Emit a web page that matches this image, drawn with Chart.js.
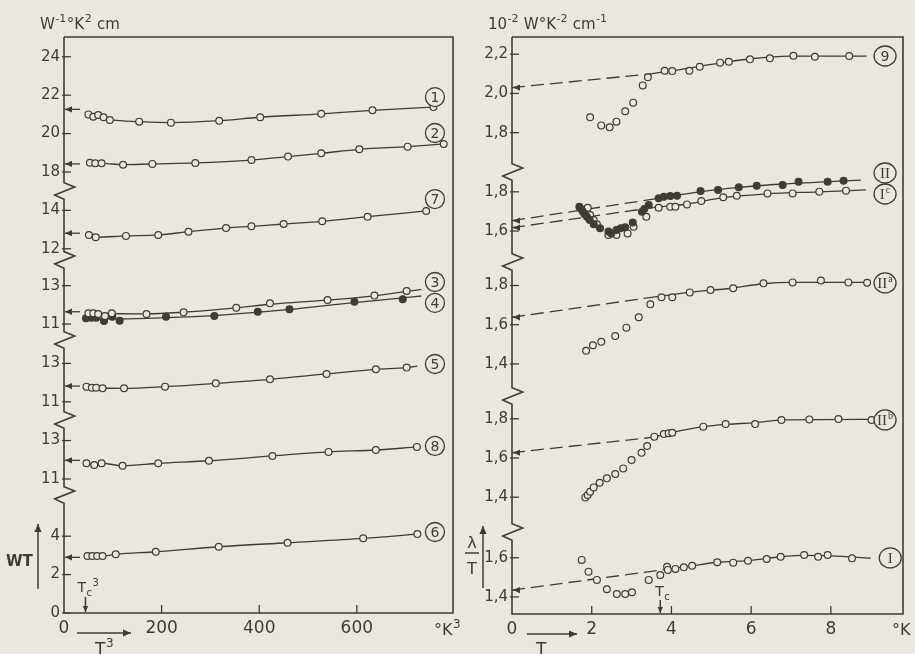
<!DOCTYPE html>
<html>
<head>
<meta charset="utf-8">
<script src="https://cdn.jsdelivr.net/npm/chart.js@4/dist/chart.umd.min.js"></script>
<style>
html, body { margin: 0; padding: 0; background: #ebe7df; }
#wrap { position: relative; width: 915px; height: 654px; overflow: hidden; }
#left { position: absolute; left: 0; top: 0; }
#right { position: absolute; left: 460px; top: 0; }
</style>
</head>
<body>
<div id="wrap">
  <canvas id="left" width="470" height="654"></canvas>
  <canvas id="right" width="455" height="654"></canvas>
</div>
<script>
// ---------- colours ----------
const INK = "#3f3c37";
const PAPER = "#ebe7df";

// ---------- left panel: WT against T^3 ----------
const c1T3 = [50, 60, 70, 81, 94, 154, 219, 318, 402, 527, 632, 757];
const c1WT = [21.0, 20.88, 20.97, 20.85, 20.71, 20.62, 20.57, 20.67, 20.85, 21.03, 21.21, 21.38];
const c1LineT3 = [94, 154, 219, 318, 402, 527, 632, 757];
const c1LineWT = [20.71, 20.62, 20.57, 20.67, 20.85, 21.03, 21.21, 21.38];

const c2T3 = [53, 64, 77, 121, 181, 269, 384, 459, 527, 605, 704, 778];
const c2WT = [18.48, 18.45, 18.45, 18.38, 18.42, 18.47, 18.62, 18.8, 18.97, 19.18, 19.32, 19.46];

const c7T3 = [51, 65, 127, 193, 255, 332, 384, 450, 529, 622, 742];
const c7WT = [12.72, 12.6, 12.67, 12.72, 12.89, 13.08, 13.17, 13.29, 13.43, 13.67, 13.97];

const c3T3 = [50, 60, 70, 84, 98, 169, 245, 353, 422, 540, 636, 702];
const c3WT = [11.56, 11.56, 11.52, 11.42, 11.56, 11.52, 11.61, 11.85, 12.08, 12.25, 12.48, 12.72];
const c3LineT3 = [50, 169, 245, 353, 422, 540, 636, 732];
const c3LineWT = [11.56, 11.53, 11.62, 11.84, 12.03, 12.25, 12.47, 12.8];

const c4T3 = [45, 56, 66, 82, 99, 114, 209, 308, 397, 462, 595, 694];
const c4WT = [11.3, 11.33, 11.33, 11.16, 11.38, 11.17, 11.38, 11.42, 11.64, 11.77, 12.16, 12.29];
const c4LineT3 = [45, 114, 209, 308, 397, 462, 595, 694, 732];
const c4LineWT = [11.3, 11.27, 11.33, 11.44, 11.62, 11.76, 12.12, 12.36, 12.46];

const c5T3 = [46, 57, 66, 79, 123, 207, 311, 422, 538, 639, 702];
const c5WT = [11.79, 11.73, 11.73, 11.7, 11.7, 11.79, 11.96, 12.17, 12.45, 12.69, 12.78];
const c5LineT3 = [46, 79, 123, 207, 311, 422, 538, 639, 702, 724];
const c5LineWT = [11.79, 11.72, 11.7, 11.79, 11.96, 12.17, 12.45, 12.69, 12.78, 12.86];

const c8T3 = [46, 62, 77, 120, 193, 297, 427, 542, 639, 723];
const c8WT = [11.82, 11.73, 11.82, 11.69, 11.82, 11.95, 12.2, 12.41, 12.51, 12.67];

const c6T3 = [48, 58, 68, 79, 106, 188, 317, 458, 613, 724];
const c6WT = [2.97, 2.97, 2.97, 2.97, 3.06, 3.19, 3.45, 3.66, 3.89, 4.11];

// left axis: every curve sits on its own broken piece of axis
const leftTicks6 = [0, 2, 4];
const leftTicks8 = [11, 13];
const leftTicks5 = [11, 13];
const leftTicks34 = [11, 13];
const leftTicks7 = [12, 14];
const leftTicks12 = [18, 20, 22, 24];
const leftXTicks = [0, 200, 400, 600];
const leftTc3 = 44;

// ---------- right panel: lambda/T against T ----------
const c9T = [1.96, 2.24, 2.45, 2.62, 2.84, 3.04, 3.28, 3.41, 3.83, 4.02, 4.45, 4.71, 5.22, 5.44, 5.97, 6.47, 7.06, 7.6, 8.46];
const c9L = [1.878, 1.837, 1.827, 1.856, 1.909, 1.953, 2.041, 2.082, 2.116, 2.114, 2.116, 2.136, 2.157, 2.162, 2.174, 2.179, 2.192, 2.187, 2.191];
const c9FitT = [3.4, 4.0, 5.0, 6.0, 7.0, 8.9];
const c9FitL = [2.098, 2.115, 2.148, 2.177, 2.19, 2.19];

const cIIT = [1.69, 1.74, 1.78, 1.82, 1.88, 1.95, 2.05, 2.21, 2.42, 2.49, 2.62, 2.73, 2.84, 3.03, 3.26, 3.32, 3.43, 3.68, 3.81, 3.97, 4.14, 4.73, 5.17, 5.69, 6.14, 6.79, 7.19, 7.92, 8.32];
const cIIL = [1.724, 1.711, 1.699, 1.687, 1.673, 1.656, 1.634, 1.614, 1.597, 1.588, 1.605, 1.614, 1.619, 1.644, 1.699, 1.712, 1.733, 1.767, 1.775, 1.779, 1.78, 1.804, 1.809, 1.823, 1.831, 1.835, 1.852, 1.852, 1.857];
const cIIFitT = [3.68, 4.7, 5.7, 6.8, 8.75];
const cIIFitL = [1.767, 1.8, 1.823, 1.84, 1.86];

const cIcT = [1.9, 1.96, 2.05, 2.13, 2.42, 2.62, 2.9, 3.05, 3.37, 3.68, 3.97, 4.1, 4.39, 4.75, 5.3, 5.64, 6.41, 7.04, 7.71, 8.38];
const cIcL = [1.719, 1.682, 1.656, 1.634, 1.58, 1.58, 1.588, 1.622, 1.673, 1.719, 1.724, 1.724, 1.736, 1.753, 1.772, 1.78, 1.792, 1.792, 1.801, 1.806];
const cIcFitT = [3.55, 4.4, 5.3, 6.4, 7.7, 8.88];
const cIcFitL = [1.72, 1.738, 1.77, 1.79, 1.8, 1.81];

const cIIaT = [1.86, 2.03, 2.24, 2.59, 2.87, 3.18, 3.47, 3.75, 4.02, 4.46, 4.98, 5.55, 6.31, 7.04, 7.75, 8.44, 8.91];
const cIIaL = [1.467, 1.495, 1.513, 1.542, 1.585, 1.638, 1.704, 1.74, 1.74, 1.765, 1.777, 1.786, 1.811, 1.816, 1.825, 1.816, 1.814];
const cIIaFitT = [3.51, 4.46, 5.5, 6.3, 7.0, 8.9];
const cIIaFitL = [1.74, 1.765, 1.786, 1.809, 1.816, 1.816];

const cIIbT = [1.84, 1.9, 1.96, 2.05, 2.2, 2.38, 2.59, 2.79, 3.0, 3.25, 3.39, 3.57, 3.81, 3.93, 4.02, 4.8, 5.36, 6.1, 6.76, 7.46, 8.19, 9.02];
const cIIbL = [1.399, 1.411, 1.428, 1.45, 1.474, 1.496, 1.518, 1.547, 1.59, 1.627, 1.661, 1.709, 1.722, 1.726, 1.729, 1.76, 1.773, 1.773, 1.794, 1.797, 1.799, 1.794];
const cIIbFitT = [3.55, 4.0, 4.8, 5.4, 6.1, 6.8, 9.2];
const cIIbFitL = [1.706, 1.729, 1.76, 1.772, 1.78, 1.794, 1.797];

const cIT = [1.75, 1.92, 2.13, 2.38, 2.63, 2.84, 3.01, 3.43, 3.72, 3.89, 3.91, 4.1, 4.31, 4.52, 5.15, 5.55, 5.92, 6.39, 6.74, 7.33, 7.68, 7.92, 8.53];
const cIL = [1.589, 1.529, 1.487, 1.439, 1.415, 1.415, 1.424, 1.487, 1.512, 1.554, 1.538, 1.543, 1.551, 1.559, 1.577, 1.575, 1.585, 1.594, 1.605, 1.614, 1.605, 1.614, 1.597];
const cIFitT = [3.89, 4.52, 5.15, 5.92, 6.74, 7.33, 8.0, 9.0];
const cIFitL = [1.541, 1.559, 1.577, 1.585, 1.605, 1.612, 1.61, 1.598];

const rightTicksI = [1.4, 1.6];
const rightTicksIIb = [1.4, 1.6, 1.8];
const rightTicksIIa = [1.4, 1.6, 1.8];
const rightTicksII = [1.6, 1.8];
const rightTicks9 = [1.8, 2.0, 2.2];
const rightXTicks = [0, 2, 4, 6, 8];
const rightTc = 3.72;

// ---------- curve lists (offset = where the piece of axis sits) ----------
const leftCurves = [
    {tag: "1", x: c1T3, y: c1WT, lx: c1LineT3, ly: c1LineWT, off: 4.97, fill: false, icpt: 21.26, tagY: 21.9},
    {tag: "2", x: c2T3, y: c2WT, off: 4.97, fill: false, icpt: 18.42, tagY: 20.03},
    {tag: "7", x: c7T3, y: c7WT, off: 6.97, fill: false, icpt: 12.81, tagY: 14.59},
    {tag: "3", x: c3T3, y: c3WT, lx: c3LineT3, ly: c3LineWT, off: 4.05, fill: false, icpt: 11.64, tagY: 13.19},
    {tag: "4", x: c4T3, y: c4WT, lx: c4LineT3, ly: c4LineWT, off: 4.05, fill: true, tagY: 12.1},
    {tag: "5", x: c5T3, y: c5WT, lx: c5LineT3, ly: c5LineWT, off: 0, fill: false, icpt: 11.82, tagY: 12.97},
    {tag: "8", x: c8T3, y: c8WT, off: -4.02, fill: false, icpt: 11.97, tagY: 12.72},
    {tag: "6", x: c6T3, y: c6WT, off: 0, fill: false, icpt: 2.9, tagY: 4.22}
];
const leftSections = [
    {vals: leftTicks6, off: 0}, {vals: leftTicks8, off: -4.02}, {vals: leftTicks5, off: 0},
    {vals: leftTicks34, off: 4.05}, {vals: leftTicks7, off: 6.97}, {vals: leftTicks12, off: 4.97}
];

const rightCurves = [
    {tag: "9", sup: "", serif: false, x: c9T, y: c9L, lx: c9FitT, ly: c9FitL, off: 0.656, fill: false, icpt: 2.03, tagY: 2.191},
    {tag: "II", sup: "", serif: true, x: cIIT, y: cIIL, lx: cIIFitT, ly: cIIFitL, off: 0.354, fill: true, icpt: 1.653, tagY: 1.896},
    {tag: "I", sup: "c", serif: true, x: cIcT, y: cIcL, lx: cIcFitT, ly: cIcFitL, off: 0.354, fill: false, icpt: 1.617, tagY: 1.789},
    {tag: "II", sup: "a", serif: true, x: cIIaT, y: cIIaL, lx: cIIaFitT, ly: cIIaFitL, off: -0.124, fill: false, icpt: 1.638, tagY: 1.813},
    {tag: "II", sup: "b", serif: true, x: cIIbT, y: cIIbL, lx: cIIbFitT, ly: cIIbFitL, off: -0.804, fill: false, icpt: 1.627, tagY: 1.794},
    {tag: "I", sup: "", serif: true, x: cIT, y: cIL, lx: cIFitT, ly: cIFitL, off: -1.313, fill: false, icpt: 1.435, tagY: 1.599}
];
const rightSections = [
    {vals: rightTicksI, off: -1.313}, {vals: rightTicksIIb, off: -0.804}, {vals: rightTicksIIa, off: -0.124},
    {vals: rightTicksII, off: 0.354}, {vals: rightTicks9, off: 0.656}
];

// ---------- helpers ----------
const FONT = '"DejaVu Sans"';

function ptsOf(xs, ys, off) {
    return xs.map((v, i) => ({x: v, y: ys[i] + off}));
}

function tickList(sections, fmt) {
    let out = [];
    sections.forEach(s => s.vals.forEach(v => out.push({v: v + s.off, label: fmt(v)})));
    return out;
}

function curveSets(c, dashed) {
    let sets = [];
    let lx = c.lx || c.x, ly = c.ly || c.y;
    sets.push({data: ptsOf(lx, ly, c.off), showLine: true, pointRadius: 0, borderColor: INK,
        borderWidth: 1.3, cubicInterpolationMode: "monotone", order: 2});
    if (dashed) {
        sets.push({data: [{x: 0, y: c.icpt + c.off}, {x: lx[0], y: ly[0] + c.off}], showLine: true,
            pointRadius: 0, borderColor: INK, borderWidth: 1.3, borderDash: [13, 6], order: 2});
    }
    sets.push({data: ptsOf(c.x, c.y, c.off), showLine: false, pointRadius: 3.4, pointBorderWidth: 1.2,
        pointBorderColor: INK, pointBackgroundColor: c.fill ? INK : PAPER, order: 1});
    return sets;
}

function rich(ctx, x, y, parts, size) {
    parts.forEach(p => {
        let s = p[1] ? Math.round(size * 0.72) : size;
        ctx.font = s + "px " + FONT;
        let dy = p[1] === 1 ? -size * 0.45 : (p[1] === -1 ? size * 0.3 : 0);
        ctx.fillText(p[0], x, y + dy);
        x += ctx.measureText(p[0]).width + 0.5;
    });
}

function arrow(ctx, x1, y1, x2, y2, head) {
    ctx.beginPath();
    ctx.moveTo(x1, y1);
    ctx.lineTo(x2, y2);
    ctx.stroke();
    let a = Math.atan2(y2 - y1, x2 - x1);
    ctx.beginPath();
    ctx.moveTo(x2, y2);
    ctx.lineTo(x2 - head * Math.cos(a) + head * 0.45 * Math.sin(a), y2 - head * Math.sin(a) - head * 0.45 * Math.cos(a));
    ctx.lineTo(x2 - head * Math.cos(a) - head * 0.45 * Math.sin(a), y2 - head * Math.sin(a) + head * 0.45 * Math.cos(a));
    ctx.closePath();
    ctx.fill();
}

// box, broken y axis, inward ticks
function framePlugin(breaks, ticks, xTicks) {
    return {
        id: "frame",
        beforeDatasetsDraw(chart) {
            const ctx = chart.ctx, a = chart.chartArea, x = chart.scales.x, y = chart.scales.y;
            ctx.save();
            ctx.strokeStyle = INK;
            ctx.fillStyle = INK;
            ctx.lineWidth = 1.6;
            ctx.beginPath();
            ctx.moveTo(a.left, a.top);
            ctx.lineTo(a.right, a.top);
            ctx.lineTo(a.right, a.bottom);
            ctx.lineTo(a.left, a.bottom);
            breaks.forEach(b => {
                let yc = y.getPixelForValue(b);
                ctx.lineTo(a.left, yc + 8.3);
                ctx.lineTo(a.left - 9.3, yc + 4);
                ctx.lineTo(a.left + 10.7, yc - 4);
                ctx.lineTo(a.left, yc - 8.3);
            });
            ctx.lineTo(a.left, a.top);
            ctx.stroke();
            ctx.lineWidth = 1.3;
            ticks.forEach(t => {
                let yp = y.getPixelForValue(t.v);
                ctx.beginPath();
                ctx.moveTo(a.left - 2, yp);
                ctx.lineTo(a.left + 7, yp);
                ctx.stroke();
            });
            xTicks.forEach(v => {
                if (v === 0) return;
                let xp = x.getPixelForValue(v);
                ctx.beginPath();
                ctx.moveTo(xp, a.bottom);
                ctx.lineTo(xp, a.bottom - 8);
                ctx.stroke();
            });
            ctx.restore();
        }
    };
}

// intercept arrows, circled curve names and the lettering
function notesPlugin(curves, tagX, roman, extra) {
    return {
        id: "notes",
        afterDatasetsDraw(chart) {
            const ctx = chart.ctx, a = chart.chartArea, x = chart.scales.x, y = chart.scales.y;
            ctx.save();
            ctx.strokeStyle = INK;
            ctx.fillStyle = INK;
            ctx.lineWidth = 1.3;
            curves.forEach(c => {
                if (c.icpt !== undefined) {
                    let yp = y.getPixelForValue(c.icpt + c.off);
                    arrow(ctx, a.left + (roman ? 7 : 16), yp, a.left + 1, yp, 7);
                }
                let tx = x.getPixelForValue(c.tag === "I" && !c.sup && roman ? tagX + 0.13 : tagX);
                let ty = y.getPixelForValue(c.tagY + c.off);
                ctx.beginPath();
                if (roman) ctx.ellipse(tx, ty, 11, 10, 0, 0, Math.PI * 2);
                else ctx.arc(tx, ty, 9.5, 0, Math.PI * 2);
                ctx.fillStyle = PAPER;
                ctx.fill();
                ctx.stroke();
                ctx.fillStyle = INK;
                ctx.textBaseline = "middle";
                ctx.font = (c.serif ? '15px "Liberation Serif"' : "14px " + FONT);
                let w1 = ctx.measureText(c.tag).width;
                let sf = '10px "Liberation Serif"';
                ctx.font = sf;
                let w2 = c.sup ? ctx.measureText(c.sup).width + 1 : 0;
                let sx = tx - (w1 + w2) / 2;
                ctx.font = (c.serif ? '15px "Liberation Serif"' : "14px " + FONT);
                ctx.textAlign = "left";
                ctx.fillText(c.tag, sx, ty + 1);
                if (c.sup) {
                    ctx.font = sf;
                    ctx.fillText(c.sup, sx + w1 + 1, ty - 4);
                }
            });
            ctx.textBaseline = "alphabetic";
            ctx.textAlign = "left";
            extra(ctx, a, x, y);
            ctx.restore();
        }
    };
}

function scaleOpts(ticks, xTicks, xmax, ymax, yWidth, xHeight, xfmt) {
    return {
        x: {
            type: "linear", min: 0, max: xmax,
            afterBuildTicks: s => { s.ticks = xTicks.map(v => ({value: v})); },
            afterFit: s => { s.height = xHeight; },
            grid: {display: false, drawTicks: false},
            border: {display: false},
            ticks: {autoSkip: false, maxRotation: 0, padding: 5, color: INK,
                font: {family: "DejaVu Sans", size: 17}, callback: v => xfmt(v)}
        },
        y: {
            type: "linear", min: 0, max: ymax,
            afterBuildTicks: s => { s.ticks = ticks.map(t => ({value: t.v})); },
            afterFit: s => { s.width = yWidth; },
            grid: {display: false, drawTicks: false},
            border: {display: false},
            ticks: {autoSkip: false, padding: 4, color: INK,
                font: {family: "DejaVu Sans", size: 15}, callback: (v, i) => ticks[i].label}
        }
    };
}

// ---------- left chart ----------
const leftTickList = tickList(leftSections, v => String(v));
let leftSets = [];
leftCurves.forEach(c => { leftSets = leftSets.concat(curveSets(c, false)); });

new Chart(document.getElementById("left"), {
    type: "scatter",
    data: {datasets: leftSets},
    options: {
        responsive: false,
        animation: false,
        events: [],
        layout: {padding: {top: 37, right: 17, left: 0, bottom: 0}},
        plugins: {legend: {display: false}, tooltip: {enabled: false}},
        scales: scaleOpts(leftTickList, leftXTicks, 797, 30, 64, 41, v => String(v))
    },
    plugins: [
        framePlugin([6.15, 10.05, 14.22, 18.39, 21.98], leftTickList, leftXTicks),
        notesPlugin(leftCurves, 760, false, (ctx, a, x, y) => {
            rich(ctx, 40, 29, [["W", 0], ["-1", 1], ["°K", 0], ["2", 1], [" cm", 0]], 15);
            ctx.font = "bold 15px " + FONT;
            ctx.fillText("WT", 6, 566);
            ctx.lineWidth = 1.5;
            arrow(ctx, 38, 589, 38, 524, 8);
            // Tc^3 marker
            let tc = x.getPixelForValue(leftTc3);
            rich(ctx, tc - 8, 592, [["T", 0], ["c", -1], ["3", 1]], 14);
            arrow(ctx, tc, 597, tc, a.bottom - 1, 6);
            // T^3 arrow under the axis
            arrow(ctx, 77, 633, 131, 633, 8);
            rich(ctx, 95, 655, [["T", 0], ["3", 1]], 17);
            rich(ctx, 434, 635, [["°K", 0], ["3", 1]], 16);
        })
    ]
});

// ---------- right chart ----------
const rightTickList = tickList(rightSections, v => v.toFixed(1).replace(".", ","));
let rightSets = [];
rightCurves.forEach(c => { rightSets = rightSets.concat(curveSets(c, true)); });

new Chart(document.getElementById("right"), {
    type: "scatter",
    data: {datasets: rightSets},
    options: {
        responsive: false,
        animation: false,
        events: [],
        layout: {padding: {top: 37, right: 12, left: 0, bottom: 0}},
        plugins: {legend: {display: false}, tooltip: {enabled: false}},
        scales: scaleOpts(rightTickList, rightXTicks, 9.81, 2.944, 52, 40, v => String(v))
    },
    plugins: [
        framePlugin([0.418, 1.112, 1.796, 2.255], rightTickList, rightXTicks),
        notesPlugin(rightCurves, 9.36, true, (ctx, a, x, y) => {
            rich(ctx, 28, 29, [["10", 0], ["-2", 1], [" W°K", 0], ["-2", 1], [" cm", 0], ["-1", 1]], 15);
            // lambda / T label
            ctx.font = "16px " + FONT;
            ctx.textAlign = "center";
            ctx.fillText("λ", 12, 548);
            ctx.fillText("T", 12, 574);
            ctx.lineWidth = 1.5;
            ctx.beginPath();
            ctx.moveTo(5, 553);
            ctx.lineTo(19, 553);
            ctx.stroke();
            ctx.textAlign = "left";
            arrow(ctx, 23, 588, 23, 526, 8);
            // Tc marker
            let tc = x.getPixelForValue(rightTc);
            rich(ctx, tc - 5, 596, [["T", 0], ["c", -1]], 14);
            arrow(ctx, tc, 600, tc, a.bottom - 1, 6);
            // T arrow under the axis
            arrow(ctx, 67, 634, 117, 634, 8);
            rich(ctx, 76, 655, [["T", 0]], 17);
            rich(ctx, 432, 635, [["°K", 0]], 16);
        })
    ]
});
</script>
</body>
</html>
